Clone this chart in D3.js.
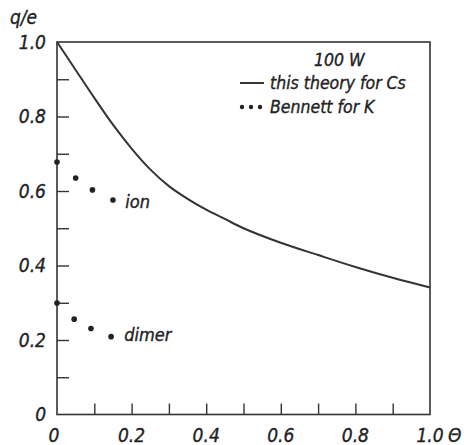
<!DOCTYPE html>
<html>
<head>
<meta charset="utf-8">
<script src="https://cdn.jsdelivr.net/npm/d3@7"></script>
<style>
  body { margin: 0; background: #fff; }
  text { font-family: "Liberation Sans Narrow", "DejaVu Sans Condensed", "Liberation Sans", sans-serif; font-style: italic; fill: #222; stroke: #222; stroke-width: 0.35px; }
</style>
</head>
<body>
<div id="chart"></div>
<script>
// theory curve for Cs (solid line)
const theoryTheta = [0, 0.05, 0.1, 0.15, 0.2, 0.25, 0.3, 0.35, 0.4, 0.45, 0.5, 0.6, 0.7, 0.8, 0.9, 1.0];
const theoryQ = [1.0, 0.925, 0.85, 0.778, 0.714, 0.658, 0.613, 0.579, 0.55, 0.525, 0.5, 0.461, 0.428, 0.396, 0.367, 0.341];

// Bennett for K (dots)
const ionTheta = [0, 0.05, 0.095, 0.15];
const ionQ = [0.678, 0.635, 0.603, 0.576];
const dimerTheta = [0, 0.046, 0.091, 0.145];
const dimerQ = [0.299, 0.256, 0.231, 0.209];

const xLabels = [0, 0.2, 0.4, 0.6, 0.8, 1.0];
const yLabels = [0, 0.2, 0.4, 0.6, 0.8, 1.0];
const minorTicks = [0.1, 0.2, 0.3, 0.4, 0.5, 0.6, 0.7, 0.8, 0.9];

(function () {
  let w = 464, h = 445;
  let margin = { top: 42, right: 34, bottom: 30.5, left: 57 };

  let svg = d3.select('#chart').append('svg')
    .attr('width', w)
    .attr('height', h);

  let x = d3.scaleLinear().domain([0, 1]).range([margin.left, w - margin.right]);
  let y = d3.scaleLinear().domain([0, 1]).range([h - margin.bottom, margin.top]);

  let ink = '#333';

  // frame
  svg.append('rect')
    .attr('x', x(0))
    .attr('y', y(1))
    .attr('width', x(1) - x(0))
    .attr('height', y(0) - y(1))
    .attr('fill', 'none')
    .attr('stroke', ink)
    .attr('stroke-width', 1.6);

  // inward ticks, no labels
  svg.append('g')
    .attr('transform', 'translate(' + x(0) + ',0)')
    .call(d3.axisLeft(y).tickValues(minorTicks).tickSize(-12).tickFormat(''))
    .call(g => g.select('.domain').remove())
    .selectAll('line').attr('stroke', ink).attr('stroke-width', 1.4);

  svg.append('g')
    .attr('transform', 'translate(0,' + y(0) + ')')
    .call(d3.axisBottom(x).tickValues(minorTicks).tickSize(-11).tickFormat(''))
    .call(g => g.select('.domain').remove())
    .selectAll('line').attr('stroke', ink).attr('stroke-width', 1.4);

  let fmt = d => d === 0 ? '0' : d.toFixed(1);

  // tick labels
  svg.selectAll('.ylab')
    .data(yLabels)
    .enter()
    .append('text')
    .attr('x', 46)
    .attr('y', d => y(d))
    .attr('dy', '0.36em')
    .attr('text-anchor', 'end')
    .style('font-size', '19px')
    .text(fmt);

  svg.selectAll('.xlab')
    .data(xLabels)
    .enter()
    .append('text')
    .attr('x', d => d === 0 ? x(d) - 3 : x(d))
    .attr('y', 442)
    .attr('text-anchor', 'middle')
    .style('font-size', '19px')
    .text(fmt);

  // axis titles
  svg.append('text').attr('x', 10).attr('y', 24).style('font-size', '19px').text('q/e');
  svg.append('text').attr('x', 448).attr('y', 442).style('font-size', '19px').text('Θ');

  // theory line
  let line = d3.line()
    .x(d => x(d[0]))
    .y(d => y(d[1]))
    .curve(d3.curveCatmullRom.alpha(0.5));

  svg.append('path')
    .datum(d3.zip(theoryTheta, theoryQ))
    .attr('d', line)
    .attr('fill', 'none')
    .attr('stroke', ink)
    .attr('stroke-width', 2);

  // Bennett points
  svg.selectAll('.ion')
    .data(d3.zip(ionTheta, ionQ))
    .enter()
    .append('circle')
    .attr('cx', d => x(d[0]))
    .attr('cy', d => y(d[1]))
    .attr('r', 2.8)
    .attr('fill', '#222');

  svg.selectAll('.dimer')
    .data(d3.zip(dimerTheta, dimerQ))
    .enter()
    .append('circle')
    .attr('cx', d => x(d[0]))
    .attr('cy', d => y(d[1]))
    .attr('r', 2.8)
    .attr('fill', '#222');

  svg.append('text').attr('x', x(0.183)).attr('y', y(0.555)).style('font-size', '18px').text('ion');
  svg.append('text').attr('x', x(0.18)).attr('y', y(0.196)).style('font-size', '18px').text('dimer');

  // legend
  let lg = svg.append('g');
  lg.append('text').attr('x', 314).attr('y', 66).style('font-size', '17.5px').text('100 W');
  lg.append('line')
    .attr('x1', 240).attr('x2', 264)
    .attr('y1', 83).attr('y2', 83)
    .attr('stroke', ink).attr('stroke-width', 2);
  lg.append('text').attr('x', 270).attr('y', 89).style('font-size', '17.5px').text('this theory for Cs');
  lg.selectAll('.lgdot')
    .data([0, 1, 2])
    .enter()
    .append('circle')
    .attr('cx', d => 242 + d * 9)
    .attr('cy', 107)
    .attr('r', 2.2)
    .attr('fill', '#222');
  lg.append('text').attr('x', 270).attr('y', 113).style('font-size', '17.5px').text('Bennett for K');
})();
</script>
</body>
</html>
